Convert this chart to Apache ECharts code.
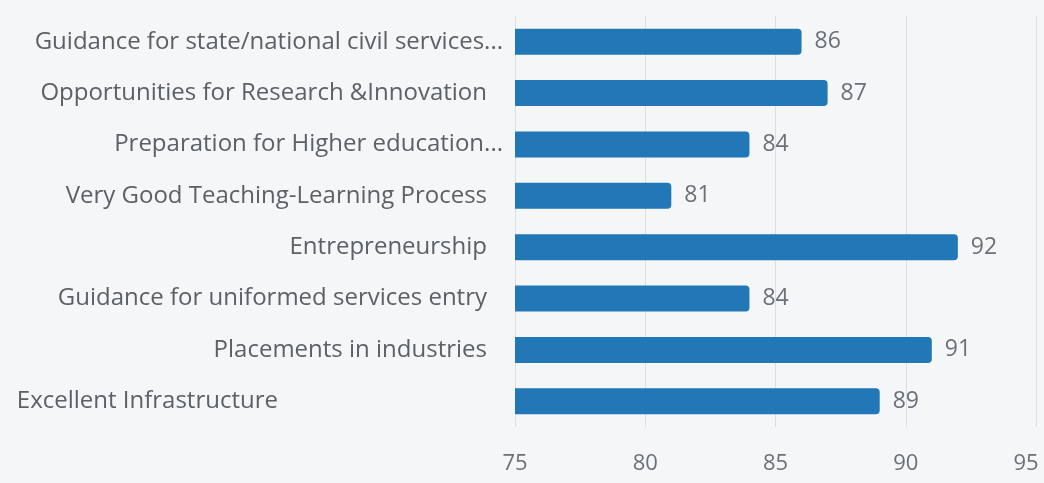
<!DOCTYPE html>
<html>
<head>
<meta charset="utf-8">
<script src="https://cdn.jsdelivr.net/npm/echarts@6/dist/echarts.min.js"></script>
<style>
  html, body { margin: 0; padding: 0; background: #f4f6f7; }
  #chart { width: 1044px; height: 483px; }
</style>
</head>
<body>
<div id="chart"></div>
<script>
// top to bottom as in the picture
const categories = [
  "Guidance for state/national civil services...",
  "Opportunities for Research &Innovation",
  "Preparation for Higher education...",
  "Very Good Teaching-Learning Process",
  "Entrepreneurship",
  "Guidance for uniformed services entry",
  "Placements in industries",
  "Excellent Infrastructure"
];
const scores = [86, 87, 84, 81, 92, 84, 91, 89];
const xTicks = [75, 80, 85, 90, 95];

const textColor = "#5b6167";
const numColor = "#6b7178";
const font = "'Open Sans', sans-serif";

const chart = echarts.init(document.getElementById("chart"));

chart.setOption({
  backgroundColor: "#f4f6f7",
  grid: { left: 515, right: 8, top: 16, bottom: 56 },
  xAxis: {
    type: "value",
    min: xTicks[0],
    max: xTicks[xTicks.length - 1],
    interval: 5,
    axisLine: { show: false },
    axisTick: { show: false },
    splitLine: { lineStyle: { color: "#dcdfe2", width: 1 } },
    axisLabel: {
      margin: 26,
      formatter: function (v) {
        // keep the last tick label inside the picture
        return v === xTicks[xTicks.length - 1] ? "{edge|" + v + "}" : "{n|" + v + "}";
      },
      rich: {
        n: { color: numColor, fontSize: 22, fontFamily: font },
        edge: { color: numColor, fontSize: 22, fontFamily: font, padding: [0, 20, 0, 0] }
      }
    }
  },
  yAxis: {
    type: "category",
    inverse: true,
    data: categories,
    axisLine: { show: false },
    axisTick: { show: false },
    axisLabel: {
      margin: 12,
      formatter: function (v) {
        if (v.endsWith("...")) return "{cut|" + v + "}";
        if (v === "Excellent Infrastructure") return "{far|" + v + "}";
        return "{std|" + v + "}";
      },
      rich: {
        std: { color: textColor, fontSize: 24, fontFamily: font, padding: [0, 16, 0, 0] },
        cut: { color: textColor, fontSize: 24, fontFamily: font, padding: [0, 0, 0, 0] },
        far: { color: textColor, fontSize: 24, fontFamily: font, padding: [0, 225, 0, 0] }
      }
    }
  },
  series: [
    {
      type: "bar",
      data: scores,
      barWidth: 26,
      itemStyle: { color: "#2277b6", borderRadius: [0, 4, 4, 0] },
      label: {
        show: true,
        position: "right",
        distance: 13,
        color: numColor,
        fontSize: 23,
        fontFamily: font
      }
    }
  ]
});
</script>
</body>
</html>
